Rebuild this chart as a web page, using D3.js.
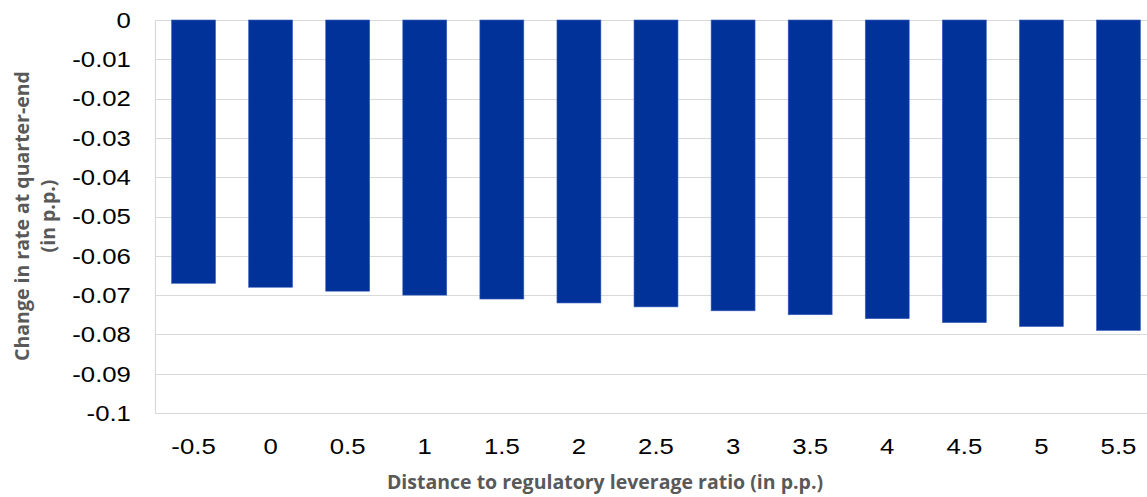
<!DOCTYPE html>
<html>
<head>
<meta charset="utf-8">
<script src="https://cdn.jsdelivr.net/npm/d3@7"></script>
<style>
  html, body { margin: 0; padding: 0; background: #fff; }
  svg { display: block; }
</style>
</head>
<body>
<div id="chart"></div>
<script>
const categories = ["-0.5", "0", "0.5", "1", "1.5", "2", "2.5", "3", "3.5", "4", "4.5", "5", "5.5"];
const values = [-0.067, -0.068, -0.069, -0.070, -0.071, -0.072, -0.073, -0.074, -0.075, -0.076, -0.077, -0.078, -0.079];
const yTicks = [0, -0.01, -0.02, -0.03, -0.04, -0.05, -0.06, -0.07, -0.08, -0.09, -0.1];

const width = 1147, height = 497;
const margin = {top: 20, left: 155};
// the plot runs a little past the right edge, as in the reference
const innerWidth = 1002;
const innerHeight = 393;

const svg = d3.select("#chart").append("svg")
    .attr("width", width)
    .attr("height", height);

const g = svg.append("g")
    .attr("transform", "translate(" + margin.left + "," + margin.top + ")");

const x = d3.scaleBand().domain(categories).range([0, innerWidth]).paddingInner(0.43).paddingOuter(0.215);
const y = d3.scaleLinear().domain([-0.1, 0]).range([innerHeight, 0]);

// gridlines
g.selectAll(".grid")
    .data(yTicks)
    .enter()
    .append("line")
    .attr("x1", 0)
    .attr("x2", width - margin.left)
    .attr("y1", d => Math.round(y(d)) + 0.5)
    .attr("y2", d => Math.round(y(d)) + 0.5)
    .attr("stroke", "#d9d9d9")
    .attr("stroke-width", 1.2);

g.append("line")
    .attr("x1", 0.5).attr("x2", 0.5)
    .attr("y1", 0).attr("y2", innerHeight + 0.5)
    .attr("stroke", "#d9d9d9")
    .attr("stroke-width", 1.2);

// bars
g.selectAll(".bar")
    .data(values)
    .enter()
    .append("rect")
    .attr("x", (d, i) => x(categories[i]))
    .attr("width", x.bandwidth())
    .attr("y", y(0))
    .attr("height", d => y(d) - y(0))
    .attr("fill", "#003299")
    .attr("stroke", "#3a5fc0")
    .attr("stroke-width", 0.6);

// y tick labels (the reference font is a bit wide, so stretch it a little)
const yAxis = d3.axisLeft(y).tickValues(yTicks).tickSize(0).tickPadding(21.5)
    .tickFormat(d => d === 0 ? "0" : String(+d.toFixed(2)));
g.append("g").call(yAxis)
    .call(s => s.select(".domain").remove())
    .selectAll("text")
    .attr("transform", "scale(1.12,1)")
    .style("font-family", "'Liberation Sans', Arial, sans-serif")
    .style("font-size", "23px")
    .attr("fill", "#000");

// x tick labels
const xAxis = d3.axisBottom(x).tickSize(0).tickPadding(25);
g.append("g")
    .attr("transform", "translate(0," + innerHeight + ")")
    .call(xAxis)
    .call(s => s.select(".domain").remove())
    .selectAll("text")
    .attr("transform", "scale(1.12,1)")
    .style("font-family", "'Liberation Sans', Arial, sans-serif")
    .style("font-size", "23px")
    .attr("fill", "#000");

// axis titles
svg.append("text")
    .attr("x", 605)
    .attr("y", 489)
    .attr("text-anchor", "middle")
    .style("font-family", "'Open Sans', sans-serif")
    .style("font-weight", "bold")
    .style("font-size", "19.5px")
    .attr("fill", "#595959")
    .text("Distance to regulatory leverage ratio (in p.p.)");

const yt = svg.append("text")
    .attr("transform", "translate(29,216) rotate(-90)")
    .attr("text-anchor", "middle")
    .style("font-family", "'Open Sans', sans-serif")
    .style("font-weight", "bold")
    .style("font-size", "19.5px")
    .attr("fill", "#595959");
yt.append("tspan").attr("x", 0).attr("dy", 0).text("Change in rate at quarter-end");
yt.append("tspan").attr("x", 0).attr("dy", 26).text("(in p.p.)");
</script>
</body>
</html>
